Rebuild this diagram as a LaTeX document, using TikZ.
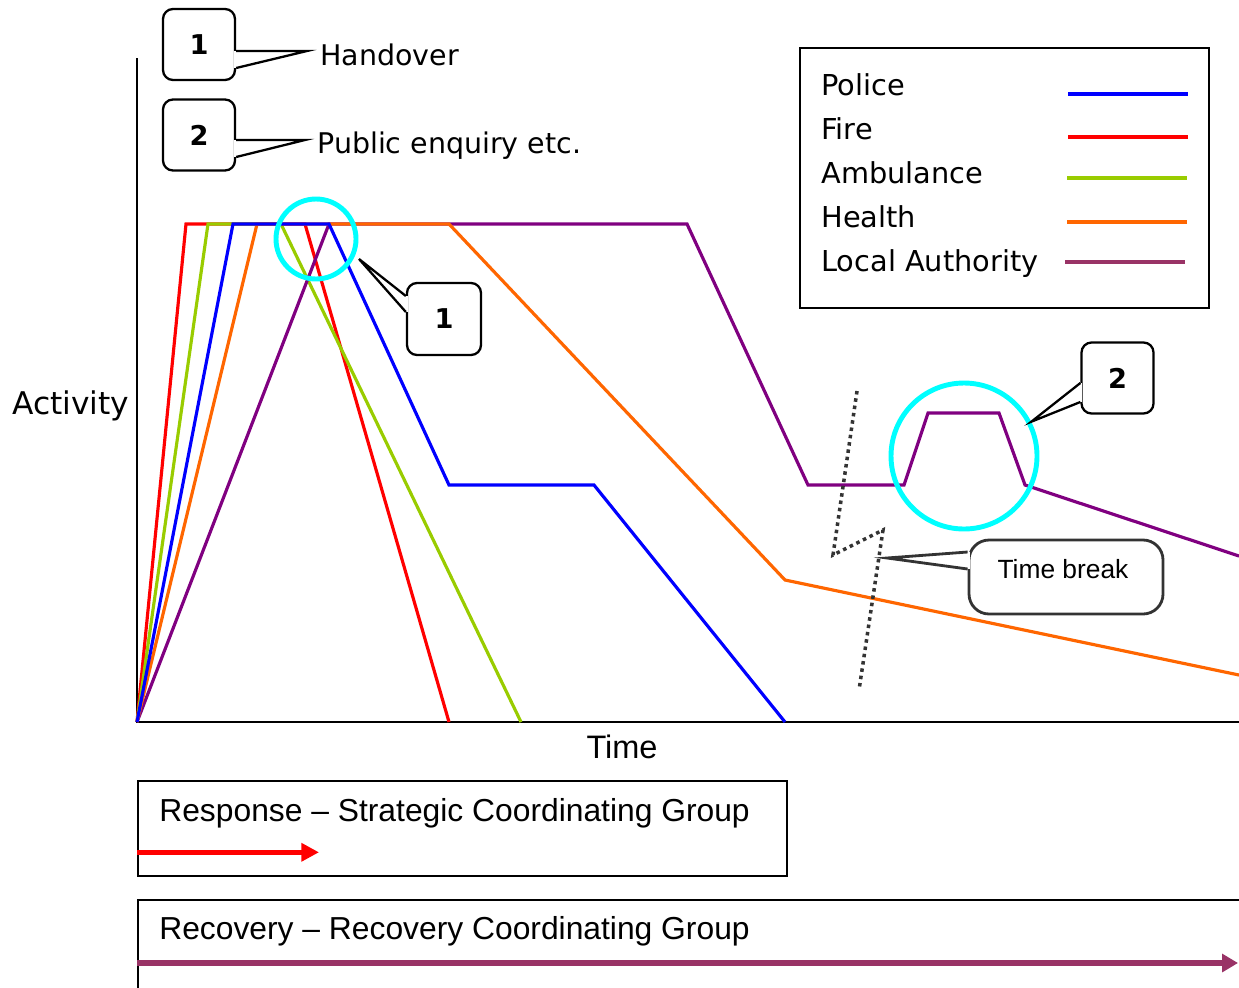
\documentclass[tikz,border=0pt]{standalone}
\usepackage{fontspec}
\setmainfont{DejaVu Sans}
\newfontfamily\arialfont{Liberation Sans}
\usetikzlibrary{arrows.meta,calc}

\definecolor{police}{RGB}{0,0,255}
\definecolor{fire}{RGB}{255,0,0}
\definecolor{ambulance}{RGB}{153,204,0}
\definecolor{health}{RGB}{255,102,0}
\definecolor{localauth}{RGB}{128,0,128}
\definecolor{lakey}{RGB}{153,51,102}
\definecolor{ringcol}{RGB}{0,255,255}
\definecolor{breakgrey}{RGB}{51,51,51}

\newdimen\pxu \pxu=0.02cm

\begin{document}
\begin{tikzpicture}[x=0.02cm,y=-0.02cm,>=Latex]
    \tikzstyle{agency}=[line width=1.8pt,line join=miter]
    \tikzstyle{ring}=[circle,draw=ringcol,line width=2.8pt,inner sep=0pt]
    \tikzstyle{tag}=[draw,line width=1.3pt,rounded corners=0.2cm,fill=white,minimum width=72\pxu,minimum height=71\pxu,font=\bfseries\fontsize{15.5}{17}\selectfont]
    \tikzstyle{wedge}=[line width=1.3pt,line join=miter]
    \tikzstyle{keytext}=[anchor=base west,inner sep=0pt,font=\fontsize{16.4}{18}\selectfont]
    \tikzstyle{phase}=[draw,line width=1.3pt,anchor=north west,inner sep=0pt]
    \tikzstyle{phasetext}=[anchor=base west,inner sep=0pt,font=\arialfont\fontsize{18.1}{20}\selectfont]

    \useasboundingbox (0,0) rectangle (1239,987);

    % axes
    \coordinate (o) at (137,722);
    \draw[line width=1.1pt] (137,58) -- (o) -- (1239,722);
    \node (act) [anchor=base west,inner sep=0pt,font=\fontsize{17.8}{20}\selectfont] at (12,414) {Activity};
    \node (time) [anchor=base,inner sep=0pt,font=\arialfont\fontsize{18.5}{20}\selectfont] at (622,758) {Time};

    % agency activity curves
    \draw[agency,fire] (o) -- (186,224) -- (305,224) -- (449,722);
    \draw[agency,ambulance] (o) -- (208,224) -- (281,224) -- (521,722);
    \draw[agency,localauth] (o) -- (329,224) -- (687,224) -- (808,485) -- (904,485)
        -- (928,413) -- (999,413) -- (1025,485) -- (1239,556);
    \draw[agency,health] (o) -- (257,224) -- (449,224) -- (785,580) -- (1239,675);
    \draw[agency,police] (o) -- (233,224) -- (329,224) -- (449,485) -- (594,485) -- (785,722);

    % highlight rings
    \node (ringA) [ring,minimum size=80\pxu] at (316,239) {};
    \node (ringB) [ring,minimum size=146\pxu] at (964,456) {};

    % time break
    \draw[breakgrey,line width=2pt,dash pattern=on 2pt off 2.2pt] (857,391) -- (833,555) -- (883,530) -- (859,690);

    % callouts
    \node (tagA) [tag] at (199,44.5) {1};
    \coordinate (tipA) at (307,51);
    \fill[white] ($(tagA.east)+(-2,6.5)$) rectangle ($(tagA.east)+(2,23.5)$);
    \draw[wedge] ($(tagA.east)+(0,6.5)$) -- (tipA) -- ($(tagA.east)+(0,23.5)$);
    \node (hand) [anchor=base west,inner sep=0pt,font=\fontsize{16.2}{18}\selectfont] at (320,65) {Handover};

    \node (tagB) [tag] at (199,135) {2};
    \coordinate (tipB) at (305,140);
    \fill[white] ($(tagB.east)+(-2,5)$) rectangle ($(tagB.east)+(2,22)$);
    \draw[wedge] ($(tagB.east)+(0,5)$) -- (tipB) -- ($(tagB.east)+(0,22)$);
    \node (enq) [anchor=base west,inner sep=0pt,font=\fontsize{16.2}{18}\selectfont] at (317,153) {Public enquiry etc.};

    \node (tagC) [tag,minimum width=74\pxu,minimum height=72\pxu] at (444,319) {1};
    \coordinate (tipC) at (359,259);
    \fill[white] ($(tagC.west)+(-2,-23)$) rectangle ($(tagC.west)+(2,-7)$);
    \draw[wedge] ($(tagC.west)+(0,-23)$) -- (tipC) -- ($(tagC.west)+(0,-7)$);

    \node (tagD) [tag] at (1117.5,378) {2};
    \fill[white] ($(tagD.west)+(-2,5)$) rectangle ($(tagD.west)+(2,24)$);
    \draw[wedge] ($(tagD.west)+(0,5)$) -- (ringB.27) -- ($(tagD.west)+(0,24)$);

    \node (brk) [draw=breakgrey,line width=1.6pt,rounded corners=0.4cm,fill=white,minimum width=194\pxu,minimum height=74\pxu] at (1066,577) {};
    \coordinate (tipE) at (887,558);
    \fill[white] ($(brk.west)+(-2,-25)$) rectangle ($(brk.west)+(2,-8)$);
    \draw[wedge,breakgrey,line width=1.6pt] ($(brk.west)+(0,-25)$) -- (tipE) -- ($(brk.west)+(0,-8)$);
    \node (brktxt) [anchor=base,inner sep=0pt,font=\arialfont\fontsize{15}{17}\selectfont] at (1063,578) {Time break};

    % legend
    \node (key) [draw,line width=1.2pt,minimum width=409\pxu,minimum height=260\pxu,anchor=north west,inner sep=0pt] at (799,47) {};
    \node (kpol) [keytext] at (821,95) {Police};
    \node (kfire) [keytext] at (821,139) {Fire};
    \node (kamb) [keytext] at (821,183) {Ambulance};
    \node (kheal) [keytext] at (821,227) {Health};
    \node (kla) [keytext] at (821,271) {Local Authority};
    \draw[police,line width=2.8pt] (1068,94) -- (1188,94);
    \draw[fire,line width=2.8pt] (1068,137) -- (1188,137);
    \draw[ambulance,line width=2.8pt] (1067,178) -- (1187,178);
    \draw[health,line width=2.8pt] (1067,222) -- (1187,222);
    \draw[lakey,line width=2.8pt] (1065,262) -- (1185,262);

    % phases
    \node (resp) [phase,minimum width=649\pxu,minimum height=95\pxu] at (137,780) {};
    \node (resptxt) [phasetext] at (159,821) {Response – Strategic Coordinating Group};
    \draw[fire,line width=2.8pt,-{Triangle[length=10pt,width=10pt]}] ($(resp.south west)+(0,-25)$) -- ++(182,0);

    \node (recov) [phase,minimum width=1130\pxu,minimum height=120\pxu] at (137,899) {};
    \node (recovtxt) [phasetext] at (159,939) {Recovery – Recovery Coordinating Group};
    \draw[lakey,line width=3pt,-{Triangle[length=9pt,width=10pt]}] ($(recov.north west)+(0,64)$) -- ++(1101,0);
\end{tikzpicture}
\end{document}
